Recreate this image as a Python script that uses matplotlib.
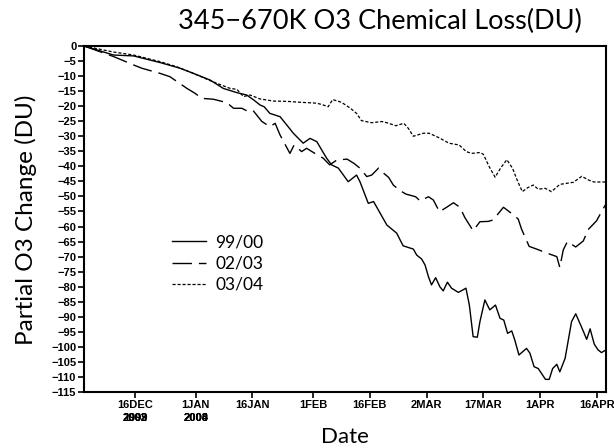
import matplotlib
matplotlib.use("Agg")
import matplotlib.pyplot as plt
from matplotlib import font_manager as fm
import matplotlib.transforms as mtransforms

# ---------------- data (day number counted from 1 Dec, 0 = 1 Dec) ----------------
tick_days = [15, 31, 46, 62, 77, 92, 107, 122, 137]
tick_labels = ["16DEC", "1JAN", "16JAN", "1FEB", "16FEB", "2MAR", "17MAR", "1APR", "16APR"]
year_labels_dec = ["1999", "2002", "2003"]
year_labels_jan = ["2000", "2003", "2004"]

days_9900 = [1.5, 9.3, 14.6, 21.6, 26.9, 30.4, 34.8, 38.3, 41.9, 44.5, 46.4, 48.0, 49.1, 50.6,
             53.3, 55.1, 56.8, 59.4, 61.2, 63.0, 65.6, 66.9, 68.7, 71.3, 73.5, 74.4, 76.6,
             78.0, 81.5, 84.1, 85.8, 88.5, 89.4, 90.7, 91.6, 92.5, 93.3, 94.4, 95.5, 96.4,
             97.5, 98.6, 100.4, 102.4, 103.3, 104.3, 105.4, 106.1, 107.4, 108.7, 110.2,
             111.4, 112.4, 113.4, 114.5, 115.3, 116.4, 118.4, 119.3, 120.4, 121.5, 123.4,
             124.4, 125.3, 126.4, 127.2, 128.6, 130.3, 131.4, 133.0, 134.3, 135.2, 136.3,
             137.3, 138.2, 139.4]
o3_9900 = [0.0, -3.0, -3.3, -5.5, -7.4, -9.1, -11.3, -14.1, -15.5, -16.3, -18.0, -19.6, -20.2,
           -22.4, -23.5, -26.3, -29.0, -32.3, -30.7, -31.8, -37.3, -39.5, -40.6, -45.1,
           -42.9, -45.1, -52.3, -51.7, -59.5, -62.2, -66.4, -67.5, -69.5, -70.8, -72.8,
           -76.7, -79.4, -77.0, -80.0, -81.4, -78.5, -80.5, -81.9, -80.5, -86.1, -96.6,
           -96.8, -91.6, -84.4, -87.7, -86.1, -90.5, -91.1, -95.5, -94.7, -97.7, -102.7,
           -100.5, -102.1, -106.6, -107.2, -110.8, -110.8, -107.2, -105.8, -108.3, -103.8,
           -91.6, -89.0, -93.6, -97.5, -94.0, -99.1, -101.0, -101.9, -101.0]

days_0203 = [1.5, 9.3, 14.6, 16.8, 21.6, 24.2, 28.7, 30.8, 32.6, 35.7, 39.2, 41.0, 43.2, 44.9,
             46.2, 48.5, 50.6, 52.0, 53.3, 55.9, 57.0, 59.0, 60.3, 62.5, 64.7, 66.4, 68.3,
             71.0, 72.8, 74.4, 76.2, 77.5, 79.3, 80.2, 82.0, 83.2, 84.8, 86.5, 89.1, 90.3,
             92.5, 93.8, 95.4, 97.3, 99.1, 100.8, 102.1, 104.3, 106.1, 108.3, 109.6, 110.5,
             112.3, 114.2, 116.2, 117.1, 119.1, 121.5, 123.7, 126.4, 127.2, 128.1, 129.2,
             131.4, 133.4, 134.7, 136.9, 138.7, 139.4]
o3_0203 = [0.0, -3.5, -6.3, -7.4, -9.1, -10.2, -14.1, -15.7, -17.4, -17.7, -18.8, -20.7, -20.7,
           -21.8, -21.5, -25.1, -26.8, -25.7, -29.6, -35.7, -32.9, -35.1, -34.0, -35.7,
           -37.3, -39.5, -37.9, -37.6, -39.0, -40.6, -43.4, -42.9, -40.6, -41.8, -43.7,
           -46.2, -47.9, -49.2, -50.1, -51.5, -50.1, -51.2, -55.1, -53.6, -52.1, -53.6,
           -57.0, -61.4, -58.4, -58.3, -57.8, -56.4, -53.6, -55.4, -57.5, -60.9, -66.6,
           -67.7, -68.8, -70.0, -73.6, -67.8, -65.0, -66.8, -64.8, -61.0, -58.1, -54.0,
           -52.5]

days_0304 = [1.5, 9.3, 14.6, 21.6, 26.0, 30.4, 34.8, 36.6, 40.1, 41.9, 43.6, 45.4, 48.0,
             51.5, 55.1, 58.6, 63.0, 64.7, 66.0, 67.2, 69.5, 71.8, 73.5, 74.8, 77.5, 80.2,
             81.5, 83.9, 86.0, 87.2, 88.5, 91.1, 92.7, 95.3, 97.9, 100.6, 102.5, 103.9,
             106.1, 107.0, 108.5, 110.1, 111.6, 113.2, 114.7, 116.0, 117.3, 118.7, 120.2,
             121.5, 123.3, 125.0, 127.2, 129.2, 130.8, 133.0, 134.7, 136.2, 139.4]
o3_0304 = [0.0, -2.0, -3.0, -5.2, -6.9, -9.1, -11.5, -12.4, -14.1, -14.4, -16.8, -16.3, -17.6,
           -18.3, -18.4, -18.7, -19.0, -19.6, -20.2, -17.8, -18.7, -20.6, -22.4, -24.8,
           -25.5, -25.1, -25.5, -26.5, -25.7, -27.4, -30.0, -29.0, -29.0, -30.5, -32.3,
           -32.9, -35.1, -35.7, -35.4, -36.0, -40.0, -43.6, -40.5, -37.8, -40.6, -44.8,
           -48.4, -47.1, -46.2, -47.6, -47.3, -48.4, -46.0, -45.6, -45.3, -43.3, -44.5,
           -45.2, -45.2]

series_labels = ["99/00", "02/03", "03/04"]

# ---------------- fonts ----------------
avail = {f.name for f in fm.fontManager.ttflist}
tick_family = [f for f in ["Liberation Sans Narrow", "Liberation Sans", "DejaVu Sans"] if f in avail] or ["DejaVu Sans"]
thin_family = [f for f in ["Lato", "Open Sans", "DejaVu Sans"] if f in avail] or ["DejaVu Sans"]

fig = plt.figure(figsize=(6.14, 4.48), dpi=100)
ax = fig.add_axes([84 / 614, 56 / 448, 522 / 614, 346 / 448])

ax.plot(days_9900, o3_9900, color="black", lw=1.0, ls="-", label=series_labels[0])
ax.plot(days_0203, o3_0203, color="black", lw=1.0, ls=(0, (14, 5)), label=series_labels[1])
ax.plot(days_0304, o3_0304, color="black", lw=0.9, ls=(0, (2.5, 1.5)), label=series_labels[2])

ax.set_xlim(1.5, 139.4)
ax.set_ylim(-115, 0)
ax.set_yticks(range(0, -116, -5))
ax.set_yticklabels([str(v).replace("-", "\u2212") for v in range(0, -116, -5)],
                   family=tick_family, fontweight="bold", fontsize=8)
ax.set_xticks(tick_days)
ax.set_xticklabels(tick_labels, family=tick_family, fontweight="bold", fontsize=8)
ax.tick_params(axis="both", direction="out", length=4, width=1.2, pad=1.5)
ax.tick_params(top=False, right=False)
for s in ax.spines.values():
    s.set_linewidth(1.5)

# overlapping year labels (one per season, drawn on top of each other)
trans = mtransforms.blended_transform_factory(ax.transData, ax.transAxes)
for yrs, xd in ((year_labels_dec, tick_days[0]), (year_labels_jan, tick_days[1])):
    for y in yrs:
        ax.text(xd, -0.060, y, transform=trans, ha="center", va="top",
                family=tick_family, fontweight="bold", fontsize=8)

fig.text(380 / 614, 1 - 21 / 448, "345\u2212670K O3 Chemical Loss(DU)", family=thin_family,
         fontsize=19.5, ha="center", va="center")
fig.text(345 / 614, 1 - 437 / 448, "Date", family=thin_family, fontsize=16,
         ha="center", va="center")
fig.text(26 / 614, 1 - 220 / 448, "Partial O3 Change (DU)", family=thin_family,
         fontsize=17.5, ha="center", va="center", rotation=90)

leg = ax.legend(loc="upper left", bbox_to_anchor=(0.1686, 0.455), frameon=False,
                fontsize=12.5, handlelength=1.96, handletextpad=0.52, labelspacing=0.29,
                borderpad=0, borderaxespad=0)
for t in leg.get_texts():
    t.set_family(thin_family)

fig.savefig("out.png", dpi=100)
